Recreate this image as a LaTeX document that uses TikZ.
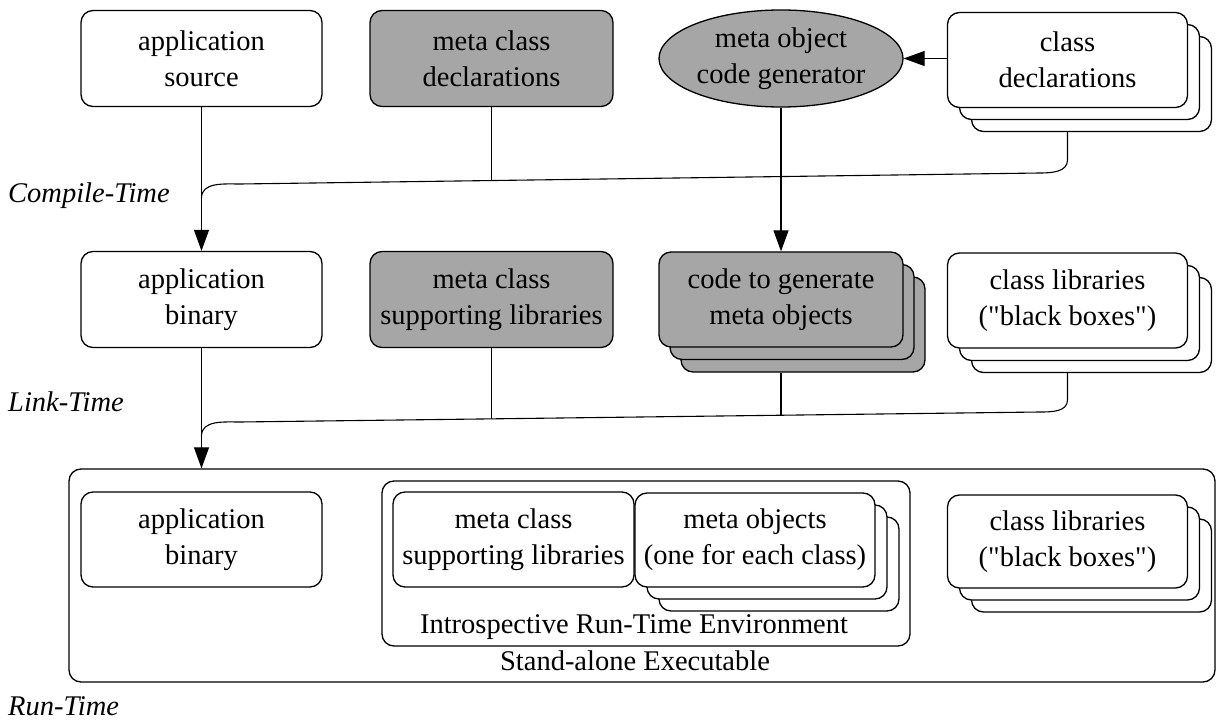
\documentclass[tikz,border=0pt]{standalone}
\usepackage{fontspec}
\setmainfont{Liberation Serif}[Ligatures=TeXOff]
\newfontfamily\tms{Liberation Serif}[Ligatures=TeXOff]
\usetikzlibrary{arrows.meta,shapes.geometric}
\definecolor{shade}{RGB}{166,166,166}
\begin{document}
\begin{tikzpicture}[x=1pt,y=-1pt,
  txt/.style={font=\tms\fontsize{28.5}{36}\selectfont},
  box/.style={txt,draw,line width=1.3pt,rounded corners=12pt,fill=white,align=center,inner sep=0pt},
  gbox/.style={box,fill=shade},
  conn/.style={line width=1.1pt},
  arr/.style={conn,-{Triangle[length=21pt,width=15pt]}},
  lbl/.style={font=\tms\fontsize{28.5}{36}\selectfont\itshape,anchor=base west,inner sep=0pt},
  blbl/.style={txt,anchor=base,inner sep=0pt},
  wA/.style={minimum width=241pt,minimum height=96pt},
  wB/.style={minimum width=243pt,minimum height=96pt},
  wC/.style={minimum width=240pt,minimum height=95pt},
]
\useasboundingbox (0,0) rectangle (1216,722);

% ---------- row 1 ----------
\node[box,wA] (appsrc) at (201.5,58.5) {application\\source};
\node[gbox,wB] (mcd) at (491.5,58.5) {meta class\\declarations};
\node[txt,draw,ellipse,line width=1.3pt,fill=shade,align=center,inner sep=-6pt,
      minimum width=244pt,minimum height=97pt] (mocg) at (781,58.5) {meta object\\code generator};
\node[box,wC] (cdb2) at (1091.5,84) {};
\node[box,wC] (cdb1) at (1079.5,72) {};
\node[box,wC] (cd) at (1067.5,60) {class\\declarations};

% ---------- row 2 ----------
\node[box,wA] (appbin) at (201.5,299.5) {application\\binary};
\node[gbox,wB] (mcsl) at (491.5,299.5) {meta class\\supporting libraries};
\node[gbox,minimum width=244pt,minimum height=95pt] (codeb2) at (803,324.5) {};
\node[gbox,minimum width=244pt,minimum height=95pt] (codeb1) at (792,312) {};
\node[gbox,minimum width=244pt,minimum height=95pt] (code) at (781,299.5) {code to generate\\meta objects};
\node[box,wC] (clb2) at (1091.5,325) {};
\node[box,wC] (clb1) at (1079.5,313) {};
\node[box,wC] (cl) at (1067.5,300.5) {class libraries\\("black boxes")};

% ---------- row 3 ----------
\node[box,minimum width=1146pt,minimum height=213pt] (outer) at (642,575.5) {};
\node[box,minimum width=528pt,minimum height=165pt] (intro) at (646,563.5) {};
\node[box,wA,minimum height=95pt] (appbin2) at (201.5,539.5) {application\\binary};
\node[box,minimum width=241pt,minimum height=95pt] (mcsl2) at (513.5,539.5) {meta class\\supporting libraries};
\node[box,wC,minimum height=94pt] (mob2) at (779,564) {};
\node[box,wC,minimum height=94pt] (mob1) at (767,552) {};
\node[box,wC,minimum height=94pt] (mo) at (755,540) {meta objects\\(one for each class)};
\node[box,wC,minimum height=93pt] (cl2b2) at (1091.5,565.5) {};
\node[box,wC,minimum height=93pt] (cl2b1) at (1079.5,553.5) {};
\node[box,wC,minimum height=93pt] (cl2) at (1067.5,541.5) {class libraries\\("black boxes")};
\node[blbl] (introlbl) at (634,633) {Introspective Run-Time Environment};
\node[blbl] (salbl) at (635,670) {Stand-alone Executable};

% ---------- phase labels ----------
\node[lbl] (ct) at (8,203) {Compile-Time};
\node[lbl] (lt) at (8,411) {Link-Time};
\node[lbl] (rt) at (8,715) {Run-Time};

% ---------- connectors ----------
\coordinate (m1) at (491.5,180.5);
\coordinate (m2) at (491.5,418.9);
\coordinate (m3) at (781,415.2);

\draw[arr] (cd.west |- mocg.east) -- (mocg.east);
\draw[arr] (appsrc.south) -- (appbin.north);
\draw[conn] (mcd.south) -- (m1);
\draw[conn] (cd.south |- cdb2.south) -- (1067.5,160) to[out=-90,in=0] (1040,173)
   -- (240,184) to[out=180,in=90] (201.5,198);
\draw[arr] (mocg.south) -- (code.north);

\draw[arr] (appbin.south) -- (appbin.south |- outer.north);
\draw[conn] (mcsl.south) -- (m2);
\draw[conn] (code.south |- codeb2.south) -- (m3);
\draw[conn] (cl.south |- clb2.south) -- (1067.5,400) to[out=-90,in=0] (1040,412)
   -- (240,422) to[out=180,in=90] (201.5,436);
\end{tikzpicture}
\end{document}
